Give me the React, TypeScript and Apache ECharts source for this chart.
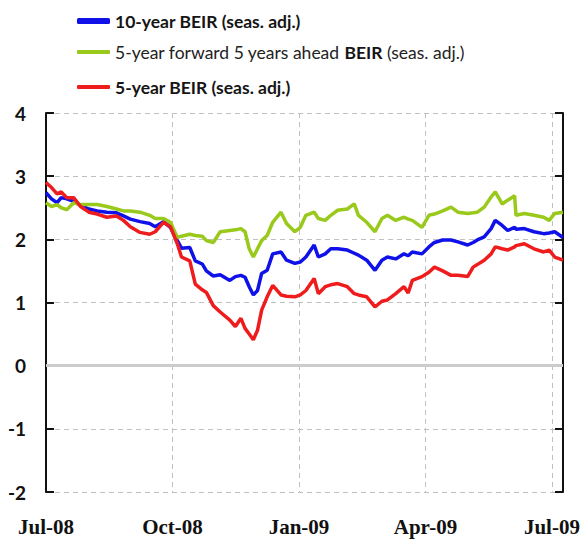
import React, { useEffect, useRef } from "react";
import * as echarts from "echarts";

const dates = [
  "2008-07-01", "2008-07-05", "2008-07-09", "2008-07-12", "2008-07-16", "2008-07-21", "2008-07-26",
  "2008-08-01", "2008-08-07", "2008-08-14", "2008-08-21", "2008-08-26", "2008-08-31",
  "2008-09-07", "2008-09-14", "2008-09-18", "2008-09-24", "2008-09-29",
  "2008-10-04", "2008-10-07", "2008-10-13", "2008-10-17", "2008-10-22", "2008-10-25", "2008-10-30",
  "2008-11-04", "2008-11-11", "2008-11-15", "2008-11-19", "2008-11-22", "2008-11-25", "2008-11-28",
  "2008-12-01", "2008-12-04", "2008-12-08", "2008-12-12", "2008-12-18", "2008-12-22", "2008-12-28",
  "2009-01-01", "2009-01-05", "2009-01-11", "2009-01-14", "2009-01-19", "2009-01-23", "2009-01-28",
  "2009-02-04", "2009-02-09", "2009-02-12", "2009-02-18", "2009-02-24",
  "2009-03-01", "2009-03-05", "2009-03-11", "2009-03-17", "2009-03-20", "2009-03-23", "2009-03-30",
  "2009-04-04", "2009-04-08", "2009-04-14", "2009-04-20", "2009-04-25",
  "2009-05-02", "2009-05-06", "2009-05-09", "2009-05-14", "2009-05-19", "2009-05-22", "2009-05-27", "2009-05-31",
  "2009-06-05", "2009-06-06", "2009-06-12", "2009-06-19", "2009-06-26", "2009-06-30",
  "2009-07-04", "2009-07-10",
];

const beir10 = [
  2.74, 2.64, 2.58, 2.66, 2.64, 2.60, 2.54,
  2.48, 2.45, 2.43, 2.42, 2.37, 2.32,
  2.28, 2.25, 2.20, 2.28, 2.19,
  1.98, 1.86, 1.87, 1.66, 1.61, 1.50, 1.42,
  1.44, 1.35, 1.41, 1.43, 1.40, 1.25, 1.12,
  1.19, 1.46, 1.51, 1.77, 1.80, 1.67, 1.62,
  1.64, 1.72, 1.91, 1.72, 1.77, 1.85, 1.85,
  1.83, 1.78, 1.75, 1.67, 1.51,
  1.67, 1.72, 1.69, 1.77, 1.74, 1.80, 1.77,
  1.88, 1.95, 1.99, 1.99, 1.96,
  1.91, 1.95, 1.99, 2.04, 2.17, 2.30, 2.22, 2.14,
  2.19, 2.16, 2.17, 2.12, 2.09, 2.10,
  2.12, 2.03,
];

const fwd5y5y = [
  2.58, 2.52, 2.55, 2.50, 2.47, 2.58, 2.55,
  2.55, 2.55, 2.52, 2.48, 2.45, 2.45,
  2.43, 2.38, 2.33, 2.33, 2.27,
  2.03, 2.05, 2.08, 2.06, 2.05, 1.98, 1.95,
  2.12, 2.14, 2.15, 2.17, 2.12, 1.85, 1.72,
  1.85, 1.98, 2.06, 2.27, 2.43, 2.25, 2.12,
  2.19, 2.38, 2.43, 2.33, 2.30, 2.38, 2.46,
  2.48, 2.56, 2.38, 2.27, 2.12,
  2.33, 2.38, 2.30, 2.35, 2.32, 2.30, 2.19,
  2.38, 2.40, 2.45, 2.51, 2.43,
  2.41, 2.42, 2.43, 2.51, 2.67, 2.75, 2.56, 2.62,
  2.69, 2.38, 2.41, 2.38, 2.35, 2.30,
  2.41, 2.43,
];

const beir5 = [
  2.90, 2.82, 2.72, 2.75, 2.66, 2.66, 2.52,
  2.43, 2.40, 2.35, 2.37, 2.30, 2.20,
  2.11, 2.08, 2.12, 2.27, 2.20,
  1.93, 1.72, 1.66, 1.29, 1.20, 1.16, 0.95,
  0.85, 0.72, 0.62, 0.75, 0.59, 0.50, 0.41,
  0.56, 0.88, 1.09, 1.27, 1.12, 1.10, 1.09,
  1.12, 1.19, 1.38, 1.14, 1.25, 1.28, 1.30,
  1.25, 1.14, 1.12, 1.09, 0.93,
  1.02, 1.04, 1.14, 1.25, 1.15, 1.35, 1.41,
  1.48, 1.56, 1.50, 1.43, 1.43,
  1.41, 1.56, 1.60, 1.67, 1.77, 1.88, 1.85, 1.83,
  1.88, 1.90, 1.93, 1.85, 1.80, 1.83,
  1.72, 1.67,
];

const xTickLabels = ["Jul-08", "Oct-08", "Jan-09", "Apr-09", "Jul-09"];
const seriesNames = [
  "10-year BEIR (seas. adj.)",
  "5-year forward 5 years ahead BEIR (seas. adj.)",
  "5-year BEIR (seas. adj.)",
];
const legendRich = [
  "{b|10-year BEIR (seas. adj.)}",
  "{n|5-year forward 5 years ahead }{b|BEIR}{n| (seas. adj.)}",
  "{b|5-year BEIR (seas. adj.)}",
];

const START = Date.UTC(2008, 6, 1);
const toDay = (s: string) => {
  const [y, m, d] = s.split("-").map(Number);
  return Math.round((Date.UTC(y, m - 1, d) - START) / 86400000);
};

export default function App() {
  const ref = useRef<HTMLDivElement>(null);
  useEffect(() => {
    document.body.style.margin = "0";
    const chart = echarts.init(ref.current!, null, { renderer: "svg" });
    const days = dates.map(toDay);
    const mk = (vals: number[]) => vals.map((v, i) => [days[i], v]);
    const colors = ["#1010e8", "#99c91a", "#ee1c1c"];
    const widths = [6, 4, 4];
    const rowTops = [12, 43, 78];
    const fs = 17.5;
    const legendTextStyle = {
      fontFamily: "Lato",
      fontSize: fs,
      color: "#222",
      rich: {
        n: { fontFamily: "Lato", fontSize: fs, color: "#222", fontWeight: "normal" },
        b: { fontFamily: "Lato", fontSize: fs, color: "#151515", fontWeight: "bold" },
      },
    };
    chart.setOption({
      animation: false,
      backgroundColor: "#ffffff",
      legend: seriesNames.map((name, i) => ({
        data: [{ name, icon: "roundRect", itemStyle: { color: colors[i] } }],
        left: 77,
        top: rowTops[i],
        padding: 0,
        itemWidth: 33,
        itemHeight: widths[i],
        itemGap: 0,
        selectedMode: false,
        formatter: () => legendRich[i],
        textStyle: legendTextStyle,
      })),
      grid: { left: 46, right: 20, top: 113, bottom: 47, containLabel: false },
      xAxis: {
        type: "value",
        min: 0,
        max: toDay("2009-07-10"),
        interval: 91.5,
        axisLine: { show: false },
        axisTick: { show: false },
        splitLine: { show: true, lineStyle: { color: "#c0c0c0", type: [5, 4], width: 1 } },
        axisLabel: {
          margin: 24,
          fontFamily: "Liberation Serif",
          fontWeight: "bold",
          fontSize: 21,
          color: "#111",
          formatter: (v: number) => {
            const idx = Math.round(v / 91.5);
            return Math.abs(v - idx * 91.5) < 0.5 && idx < xTickLabels.length ? xTickLabels[idx] : "";
          },
        },
      },
      yAxis: [
        {
          type: "value",
          min: -2,
          max: 4,
          interval: 1,
          position: "left",
          axisLine: { show: true, lineStyle: { color: "#111", width: 2 } },
          axisTick: { show: true, inside: true, length: 8, lineStyle: { color: "#111", width: 2 } },
          axisLabel: {
            margin: 20,
            fontFamily: "Lato",
            fontWeight: "bold",
            fontSize: 19,
            color: "#111",
          },
          splitLine: { show: true, lineStyle: { color: "#c0c0c0", type: [5, 4], width: 1 } },
        },
        {
          type: "value",
          min: -2,
          max: 4,
          interval: 1,
          position: "right",
          axisLine: { show: true, lineStyle: { color: "#111", width: 2 } },
          axisTick: { show: true, inside: true, length: 8, lineStyle: { color: "#111", width: 2 } },
          axisLabel: { show: false },
          splitLine: { show: false },
        },
      ],
      series: [
        {
          name: seriesNames[0],
          type: "line",
          data: mk(beir10),
          showSymbol: false,
          lineStyle: { color: colors[0], width: 3.5 },
          itemStyle: { color: colors[0] },
          markLine: {
            silent: true,
            symbol: ["none", "none"],
            label: { show: false },
            lineStyle: { color: "#cccccc", width: 3, type: "solid" },
            data: [{ yAxis: 0 }],
          },
        },
        {
          name: seriesNames[1],
          type: "line",
          data: mk(fwd5y5y),
          showSymbol: false,
          lineStyle: { color: colors[1], width: 3.5 },
          itemStyle: { color: colors[1] },
        },
        {
          name: seriesNames[2],
          type: "line",
          data: mk(beir5),
          showSymbol: false,
          lineStyle: { color: colors[2], width: 3.5 },
          itemStyle: { color: colors[2] },
        },
      ],
    });
    return () => chart.dispose();
  }, []);
  return <div ref={ref} style={{ width: 583, height: 539 }} />;
}
